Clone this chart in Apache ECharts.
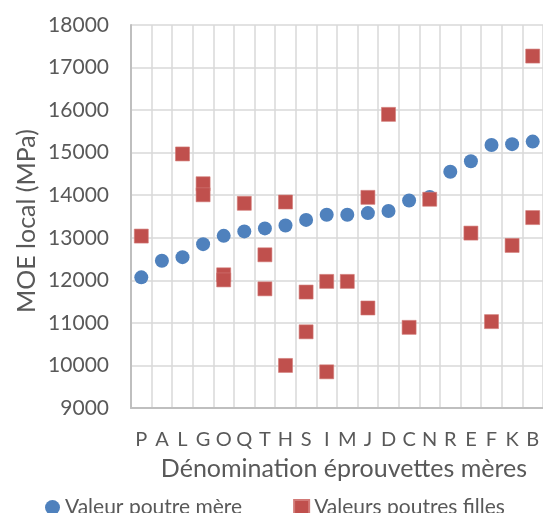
<!DOCTYPE html>
<html>
<head>
<meta charset="utf-8">
<script src="https://cdn.jsdelivr.net/npm/echarts@6/dist/echarts.min.js"></script>
<style>
  html, body { margin: 0; padding: 0; background: #fff; }
  #chart { width: 543px; height: 513px; }
</style>
</head>
<body>
<div id="chart"></div>
<script>
// Specimen names along the x axis
const specimens = ['P','A','L','G','O','Q','T','H','S','I','M','J','D','C','N','R','E','F','K','B'];

// Local MOE of each parent beam (MPa)
const parentMOE = [12070, 12460, 12545, 12850, 13045, 13150, 13220, 13290, 13420, 13540,
                   13540, 13580, 13630, 13875, 13960, 14550, 14800, 15180, 15200, 15260];

// Local MOE of the daughter beams cut from each parent (MPa)
const daughterMOE = [
  [13040],          // P
  [],               // A
  [14970],          // L
  [14270, 14010],   // G
  [12130, 12010],   // O
  [13810],          // Q
  [12600, 11800],   // T
  [13840, 10000],   // H
  [11725, 10790],   // S
  [11975, 9850],    // I
  [11975],          // M
  [13950, 11350],   // J
  [15900],          // D
  [10895],          // C
  [13905],          // N
  [],               // R
  [13110],          // E
  [11030],          // F
  [12820],          // K
  [13475, 17270]    // B
];

const yMin = 9000, yMax = 18000, yStep = 1000;
const yTitle = 'MOE local (MPa)';
const xTitle = 'Dénomination éprouvettes mères';

const parentPoints = parentMOE.map((v, i) => [i, v]);
const daughterPoints = [];
daughterMOE.forEach((vals, i) => vals.forEach(v => daughterPoints.push([i, v])));

const textColor = '#595959';
const font = 'Lato';

const chart = echarts.init(document.getElementById('chart'), null, { renderer: 'canvas' });
chart.setOption({
  animation: false,
  grid: { left: 131, top: 25, width: 414, height: 383, containLabel: false },
  graphic: [
    {
      // vertical axis title, centred on the whole chart height
      type: 'text',
      x: 27,
      y: 221,
      rotation: Math.PI / 2,
      style: {
        text: yTitle,
        fill: textColor,
        font: '25px Lato',
        textAlign: 'center',
        textVerticalAlign: 'middle'
      }
    }
  ],
  xAxis: {
    type: 'category',
    data: specimens,
    boundaryGap: true,
    name: xTitle,
    nameLocation: 'middle',
    nameGap: 48,
    nameTextStyle: { color: textColor, fontFamily: font, fontSize: 25, padding: [0, 0, 0, 14] },
    axisLine: { lineStyle: { color: '#bfbfbf', width: 2 } },
    axisTick: { show: false },
    axisLabel: { color: textColor, fontFamily: font, fontSize: 20, margin: 22, interval: 0 },
    splitLine: { show: true, interval: 0, lineStyle: { color: '#d9d9d9', width: 1.5 } }
  },
  yAxis: {
    type: 'value',
    min: yMin,
    max: yMax,
    interval: yStep,
    axisLine: { show: true, lineStyle: { color: '#bfbfbf', width: 2 } },
    axisTick: { show: false },
    axisLabel: {
      color: textColor, fontFamily: font, fontSize: 21, margin: 22,
      formatter: v => String(v)
    },
    splitLine: { show: true, lineStyle: { color: '#d9d9d9', width: 1.5 } }
  },
  legend: {
    left: 45,
    top: 497,
    padding: 0,
    itemWidth: 15,
    itemHeight: 15,
    itemGap: 51,
    textStyle: { color: textColor, fontFamily: font, fontSize: 21 },
    data: [
      { name: 'Valeur poutre mère', icon: 'circle' },
      { name: 'Valeurs poutres filles', icon: 'rect' }
    ]
  },
  series: [
    {
      name: 'Valeur poutre mère',
      type: 'scatter',
      symbol: 'circle',
      symbolSize: 14,
      itemStyle: { color: '#4f81bd', opacity: 1 },
      data: parentPoints,
      z: 2
    },
    {
      name: 'Valeurs poutres filles',
      type: 'scatter',
      symbol: 'rect',
      symbolSize: [14, 14],
      itemStyle: { color: '#c0504d', borderColor: '#d27a77', borderWidth: 0.6, opacity: 1 },
      data: daughterPoints,
      z: 3
    }
  ]
});
</script>
</body>
</html>
